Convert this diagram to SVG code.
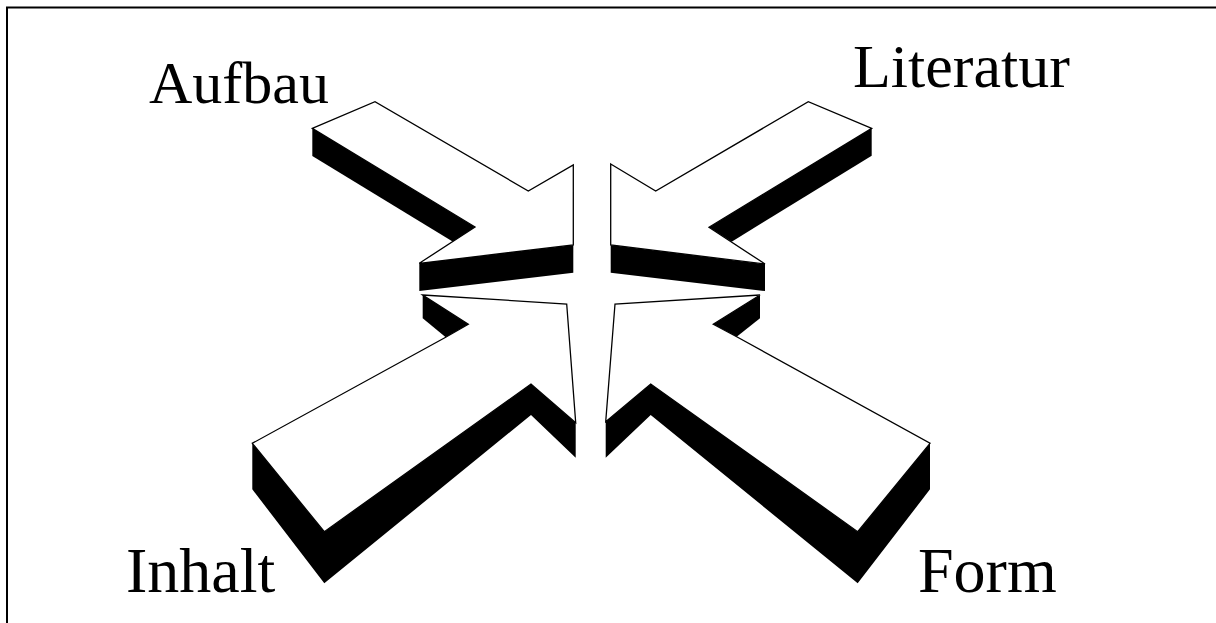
<svg xmlns="http://www.w3.org/2000/svg" width="1216" height="623" viewBox="0 0 1216 623">
<style>
.face{fill:#fff;stroke:#000;stroke-width:1.3;stroke-linejoin:miter}
.shade{fill:#000;stroke:none}
.lbl{font-family:"Liberation Serif","Times New Roman",serif;fill:#000}
</style>
<rect x="0" y="0" width="1216" height="623" fill="#fff"/>
<path d="M7 623 V7.5 H1216" fill="none" stroke="#000" stroke-width="2"/>
<g id="arrow-aufbau">
<polygon class="shade" points="312.3,128.3 475,227 453,241.7 312.3,156"/>
<polygon class="shade" points="419.3,263.3 573.3,245 573.3,272.7 419.3,291"/>
<polygon class="face" points="312.3,128.3 375,101.7 528.3,191 573.3,165 573.3,245 419.3,263.3 475,227"/>
</g>
<g id="arrow-literatur">
<polygon class="shade" points="871.7,128.3 871.7,155.7 731.7,241.7 709,227.3"/>
<polygon class="shade" points="610.7,245 765,264 765,291 610.7,272.7"/>
<polygon class="face" points="610.7,164 655.7,191 808.3,101.7 871.7,128.3 709,227.3 765,264 610.7,245"/>
</g>
<g id="arrow-inhalt">
<polygon class="shade" points="422.7,295 468.3,324.3 445.7,337.3 422.7,318.3"/>
<polygon class="shade" points="252.3,443.3 252.3,489.3 324.3,583.3 531,415 575.7,457.7 575.7,422.7 531,384 324.3,531.7"/>
<polygon class="face" points="422.7,295 566.7,304 575.7,422.7 531,384 324.3,531.7 252.3,443.3 445.7,337.3 468.3,324.3"/>
</g>
<g id="arrow-form">
<polygon class="shade" points="760,295 760,318.3 736.7,336.7 713.3,324.3"/>
<polygon class="shade" points="930,443.3 930,489.3 857.7,583.3 650.7,415 605.7,457.7 605.7,421.7 650.7,384 857.7,531.7"/>
<polygon class="face" points="760,295 615,304 605.7,421.7 650.7,384 857.7,531.7 930,443.3 736.7,336.7 713.3,324.3"/>
</g>
<g id="labels">
<text class="lbl" x="149" y="103.3" font-size="60">Aufbau</text>
<text class="lbl" x="853" y="86.7" font-size="62">Literatur</text>
<text class="lbl" x="126" y="591.7" font-size="64">Inhalt</text>
<text class="lbl" x="918" y="591.7" font-size="64">Form</text>
</g>
</svg>
